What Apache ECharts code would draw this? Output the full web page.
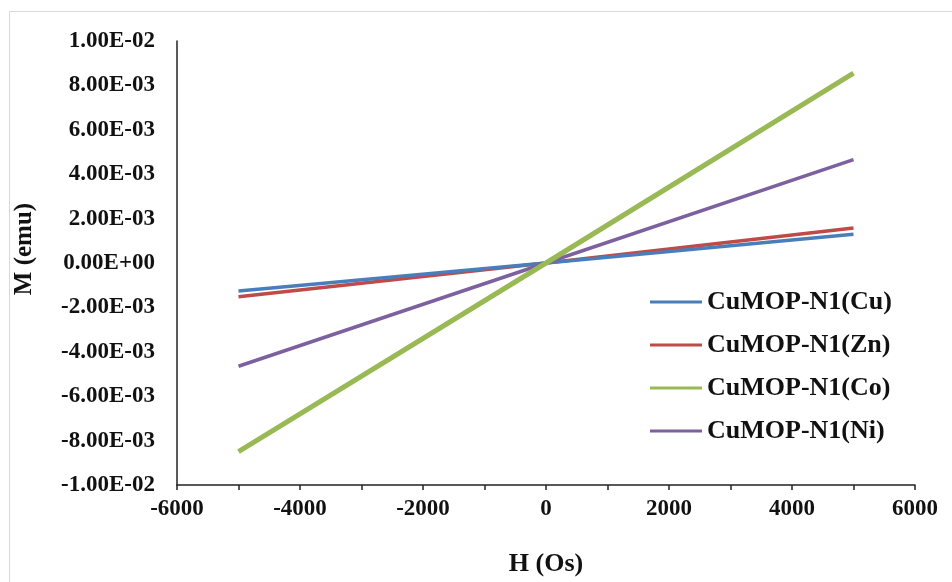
<!DOCTYPE html>
<html>
<head>
<meta charset="utf-8">
<script src="https://cdn.jsdelivr.net/npm/echarts@6/dist/echarts.min.js"></script>
<style>html,body{margin:0;padding:0;background:#fff}#c{width:952px;height:582px}</style>
</head>
<body>
<div id="c"></div>
<script>
const H = [-5000, 0, 5000];
const cuM = [-1.26e-3, 0, 1.30e-3];
const znM = [-1.52e-3, 0, 1.58e-3];
const coM = [-8.50e-3, 0, 8.55e-3];
const niM = [-4.65e-3, 0, 4.66e-3];
const names = ['CuMOP-N1(Cu)', 'CuMOP-N1(Zn)', 'CuMOP-N1(Co)', 'CuMOP-N1(Ni)'];
const xTicks = {min: -6000, max: 6000, interval: 2000};
const yTicks = {min: -0.01, max: 0.01, interval: 0.002};

function sci(v) {
  if (Math.abs(v) < 1e-12) return '0.00E+00';
  const s = v.toExponential(2).toUpperCase();
  const m = s.match(/^(-?[\d.]+)E([+-])(\d+)$/);
  let e = m[3]; if (e.length < 2) e = '0' + e;
  return m[1] + 'E' + m[2] + e;
}
const pair = (ys) => H.map((h, i) => [h, ys[i]]);
const font = 'Liberation Serif';
const txt = {fontFamily: font, fontWeight: 'bold', color: '#111'};

const chart = echarts.init(document.getElementById('c'));
chart.setOption({
  backgroundColor: '#fff',
  animation: false,
  graphic: [{type: 'rect', shape: {x: 9.5, y: 11.5, width: 1000, height: 1000}, style: {fill: 'none', stroke: '#d9d9d9', lineWidth: 1}, z: -1}],
  grid: {left: 177, right: 37, top: 41, bottom: 95},
  legend: {
    orient: 'vertical', left: 650, top: 289, padding: 0,
    icon: 'rect', itemWidth: 52, itemHeight: 3, itemGap: 17,
    data: names,
    textStyle: Object.assign({fontSize: 26, lineHeight: 26}, txt)
  },
  xAxis: {
    type: 'value', min: xTicks.min, max: xTicks.max, interval: xTicks.interval,
    name: 'H (Os)', nameLocation: 'middle', nameGap: 66,
    nameTextStyle: Object.assign({fontSize: 26}, txt),
    splitLine: {show: false},
    axisLine: {onZero: false, lineStyle: {color: '#222', width: 1.5}},
    axisTick: {show: true, length: 5, lineStyle: {color: '#222', width: 1.5}},
    minorTick: {show: true, splitNumber: 2, length: 5, lineStyle: {color: '#222', width: 1.5}},
    axisLabel: Object.assign({fontSize: 23, margin: 13, formatter: (v) => String(v)}, txt)
  },
  yAxis: {
    type: 'value', min: yTicks.min, max: yTicks.max, interval: yTicks.interval,
    name: 'M (emu)', nameLocation: 'middle', nameGap: 140, nameRotate: 90,
    nameTextStyle: Object.assign({fontSize: 25, padding: [0, 0, 0, 28]}, txt),
    splitLine: {show: false},
    axisLine: {show: true, onZero: false, lineStyle: {color: '#222', width: 1.5}},
    axisTick: {show: false},
    axisLabel: Object.assign({fontSize: 23, margin: 22, formatter: sci}, txt)
  },
  series: [
    {name: names[0], type: 'line', data: pair(cuM), showSymbol: false, symbol: 'none', z: 3, color: '#4a7ebb', lineStyle: {width: 3.5}},
    {name: names[1], type: 'line', data: pair(znM), showSymbol: false, symbol: 'none', z: 2, color: '#be4b48', lineStyle: {width: 3.5}},
    {name: names[2], type: 'line', data: pair(coM), showSymbol: false, symbol: 'none', z: 5, color: '#98b954', lineStyle: {width: 5}},
    {name: names[3], type: 'line', data: pair(niM), showSymbol: false, symbol: 'none', z: 4, color: '#7d60a0', lineStyle: {width: 3.5}}
  ]
});
</script>
</body>
</html>
